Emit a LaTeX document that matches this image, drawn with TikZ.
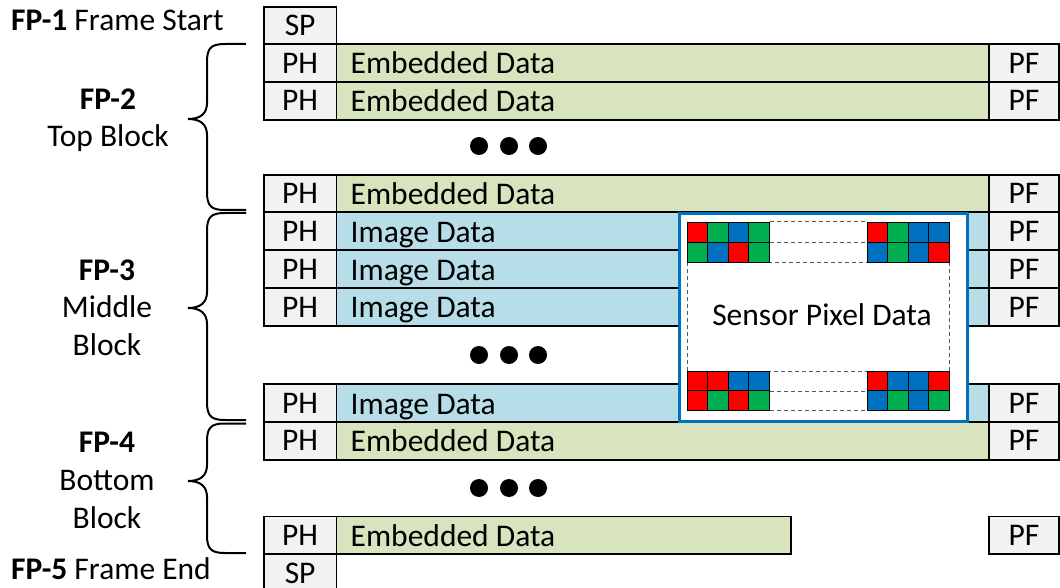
\documentclass[tikz,border=0pt]{standalone}
\usepackage{fontspec}
\setmainfont{Carlito}
\usetikzlibrary{calc}
\definecolor{boxgray}{HTML}{F2F2F2}
\definecolor{embgreen}{HTML}{D7E4BD}
\definecolor{imgblue}{HTML}{B7DEE8}
\definecolor{pxr}{HTML}{FF0000}
\definecolor{pxg}{HTML}{00B050}
\definecolor{pxb}{HTML}{0070C0}
\definecolor{frameblue}{HTML}{0070C0}
\definecolor{dashgray}{HTML}{595959}
\newcommand\fpbrace[3]{%
  \draw[bracestyle] (246,#1) -- (225,#1) .. controls (211,#1) and (207,#1+4) .. (207,#1+18)
    -- (207,#2-16) .. controls (207,#2-5) and (200,#2) .. (188,#2)
    .. controls (200,#2) and (207,#2+5) .. (207,#2+16)
    -- (207,#3-18) .. controls (207,#3-4) and (211,#3) .. (225,#3) -- (246,#3);}
\newcommand\pixblock[5]{% x0, y0, cell height, row1 colours, row2 colours
  \foreach \c [count=\i from 0] in {#4} {\filldraw[pixcell, fill=\c] (#1+\i*20.6,#2) rectangle ++(20.6,#3);}
  \foreach \c [count=\i from 0] in {#5} {\filldraw[pixcell, fill=\c] (#1+\i*20.6,#2+#3) rectangle ++(20.6,#3);}}
\begin{document}
\begin{tikzpicture}[x=1pt,y=-1pt,
  font=\fontsize{31.5}{38}\selectfont,
  cell/.style={draw=black, line width=1.8pt, inner sep=0, anchor=north west, minimum height=37.8pt},
  hdr/.style={cell, fill=boxgray, minimum width=72.5pt},
  pfbox/.style={cell, fill=boxgray, minimum width=70pt},
  emb/.style={cell, fill=embgreen},
  img/.style={cell, fill=imgblue},
  lbl/.style={anchor=base west, inner sep=0},
  side/.style={anchor=base, inner sep=0},
  dot/.style={circle, fill=black, minimum size=18pt, inner sep=0},
  bracestyle/.style={draw=black, line width=2pt},
  pixcell/.style={draw=black, line width=0.8pt},
  dashline/.style={draw=dashgray, line width=1pt, dash pattern=on 4pt off 3pt}]
\useasboundingbox (0,0) rectangle (1060,588);
% start packet
\node[hdr, minimum height=37.2pt] (sp1) at (263,6) {SP};
% rows
\foreach \n/\y/\s/\txt in {1/43.2/emb/Embedded Data, 2/81/emb/Embedded Data, 3/174/emb/Embedded Data,
  4/211.5/img/Image Data, 5/249.3/img/Image Data, 6/287.1/img/Image Data, 7/383.3/img/Image Data,
  8/421/emb/Embedded Data} {
  \node[\s, minimum width=652.5pt] (d\n) at (335.5,\y) {};
  \node[lbl] (t\n) at ($(d\n.west)+(15,11)$) {\txt};
  \node[hdr] (ph\n) at (263,\y) {PH};
  \node[pfbox] (pf\n) at (988,\y) {PF};
}
\node[emb, minimum width=454.5pt] (d9) at (335.5,515.5) {};
\node[lbl] (t9) at ($(d9.west)+(15,11)$) {Embedded Data};
\node[hdr] (ph9) at (263,515.5) {PH};
\node[pfbox] (pf9) at (988,515.5) {PF};
% end packet
\node[hdr] (sp2) at (263,553.3) {SP};
% dots
\foreach \r/\y in {a/146, b/355, c/488} {
  \node[dot] (dot\r1) at (479,\y) {};
  \node[dot] (dot\r2) at (509,\y) {};
  \node[dot] (dot\r3) at (538,\y) {};
}
% sensor box
\node[draw=frameblue, line width=2.5pt, fill=white, anchor=north west, inner sep=0,
  minimum width=288pt, minimum height=207.5pt] (sensor) at (678,212.5) {};
\draw[dashline] (687,262) rectangle (949.4,371);
\draw[dashline] (770,222) -- (867,222);
\draw[dashline] (770,242) -- (867,242);
\draw[dashline] (770,391) -- (867,391);
\draw[dashline] (770,410.4) -- (867,410.4);
\pixblock{687}{222}{20}{pxr,pxg,pxb,pxg}{pxg,pxb,pxr,pxg}
\pixblock{867}{222}{20}{pxr,pxg,pxb,pxb}{pxb,pxg,pxb,pxr}
\pixblock{687}{371}{19.7}{pxr,pxr,pxb,pxb}{pxr,pxg,pxr,pxg}
\pixblock{867}{371}{19.7}{pxr,pxb,pxb,pxr}{pxb,pxg,pxb,pxg}
\node[anchor=base, inner sep=0] (sensortxt) at (822,325) {Sensor Pixel Data};
% left labels
\node[lbl] (fp1) at (11,31) {\textbf{FP-1} Frame Start};
\node[lbl] (fp5) at (11,579) {\textbf{FP-5} Frame End};
\node[side] (fp2a) at (108,110) {\textbf{FP-2}};
\node[side] (fp2b) at (108,146.5) {Top Block};
\node[side] (fp3a) at (107,280) {\textbf{FP-3}};
\node[side] (fp3b) at (107,317.5) {Middle};
\node[side] (fp3c) at (107,355.5) {Block};
\node[side] (fp4a) at (107,452) {\textbf{FP-4}};
\node[side] (fp4b) at (107,490) {Bottom};
\node[side] (fp4c) at (107,528) {Block};
% braces
\fpbrace{44}{119}{210}
\fpbrace{213}{308}{420}
\fpbrace{423.5}{481}{553}
\end{tikzpicture}
\end{document}
